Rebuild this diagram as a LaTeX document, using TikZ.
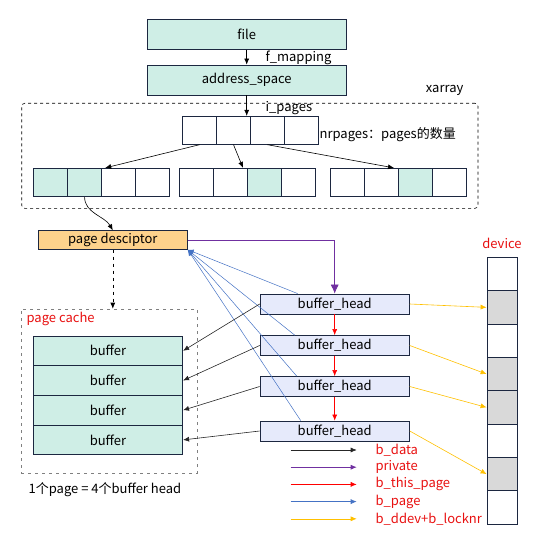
\documentclass[tikz,border=0pt]{standalone}
\usepackage{fontspec}
\setmainfont{Noto Sans CJK SC}
\usetikzlibrary{arrows.meta}
\definecolor{mint}{HTML}{CFEEE6}
\definecolor{peach}{HTML}{FDD28C}
\definecolor{lilac}{HTML}{E6EAFB}
\definecolor{navy}{HTML}{1C2740}
\definecolor{labelred}{HTML}{E81010}
\definecolor{bpurple}{HTML}{7030A0}
\definecolor{bblue}{HTML}{4472C4}
\definecolor{byellow}{HTML}{FFC000}
\definecolor{devgray}{HTML}{D9D9D9}
\tikzset{
	mainbox/.style={draw=navy, line width=0.8pt, fill=mint, inner sep=0pt, minimum width=199.5pt, minimum height=30pt},
	xcell/.style={draw=navy, line width=0.8pt, inner sep=0pt, minimum width=34pt, minimum height=28.4pt},
	pdbox/.style={draw=navy, line width=0.8pt, fill=peach, inner sep=0pt, minimum width=149pt, minimum height=18.6pt},
	bufbox/.style={draw=navy, line width=0.8pt, fill=mint, inner sep=0pt, minimum width=149.4pt, minimum height=29.7pt},
	bhbox/.style={draw=navy, line width=0.8pt, fill=lilac, inner sep=0pt, minimum width=149.3pt, minimum height=20pt},
	devcell/.style={draw=navy, line width=0.8pt, inner sep=0pt, minimum width=30pt, minimum height=33.35pt},
	redtext/.style={text=labelred}
}
\begin{document}
\begin{tikzpicture}[x=1pt,y=-1pt,font=\fontsize{13}{15}\selectfont,
	>={Latex[length=6pt,width=5pt]}, line width=0.6pt]
	\useasboundingbox (0,0) rectangle (545,540);
	%file and address space
	\node[mainbox] (file) at (246.7,34.3) {file};
	\node[mainbox] (addr) at (246.7,80) {address\_space};
	\draw[->] (file) -- (addr);
	\node[anchor=west] (fmap) at (262,57.5) {f\_mapping};
	
	%xarray
	\node[draw, dash pattern=on 3pt off 3pt, rounded corners=3pt, minimum width=456.3pt, minimum height=105pt] (xa) at (249.85,155.8) {};
	\node[anchor=east] (xalabel) at (467,90) {xarray};
	\foreach \i in {0,...,3}{
		\node[xcell, minimum height=28pt] (top\i) at (199.5+34*\i,130.3) {};
	}
	\draw[->] (addr.south) -- (addr.south |- top0.north);
	\node[anchor=west] (ipages) at (262,108.5) {i\_pages};
	\node[anchor=west] (nr) at (316,135) {nrpages：pages的数量};
	
	\foreach \i/\f in {0/mint,1/mint,2/white,3/white}
		\node[xcell, fill=\f] (a0\i) at (50.6+34*\i,182.5) {};
	\foreach \i/\f in {0/white,1/white,2/mint,3/white}
		\node[xcell, fill=\f] (a1\i) at (196.4+34*\i,182.5) {};
	\foreach \i/\f in {0/white,1/white,2/mint,3/white}
		\node[xcell, fill=\f] (a2\i) at (347.4+34*\i,182.5) {};
	\draw[->] (top0.south) -- ([xshift=4pt]a02.north west);
	\draw[->] (top1.south) -- ([xshift=-4pt]a12.north west);
	\draw[->] (top2.south) -- ([xshift=-4pt]a22.north west);
	
	%page descriptor and page cache
	\node[pdbox] (pd) at (112.8,240) {page desciptor};
	\draw[->] (a01.south) .. controls +(0,16) and +(-8,-14) .. (pd.north);
	\node[draw=gray, dash pattern=on 3pt off 4pt, minimum width=176pt, minimum height=164pt] (cache) at (109,391) {};
	\draw[->, dash pattern=on 3pt off 4pt] (pd.south) -- (pd.south |- cache.north);
	\node[redtext, anchor=west] (pclabel) at (23,319) {page cache};
	\foreach \i in {0,...,3}{
		\node[bufbox] (buf\i) at (108,350.8+29.7*\i) {buffer};
	}
	\node[anchor=west] (ratio) at (25,490) {1个page = 4个buffer head};
	
	%buffer heads
	\foreach \i/\y in {0/304,1/345.5,2/386.5,3/431}{
		\node[bhbox] (bh\i) at (334.7,\y) {buffer\_head};
	}
	\foreach \i/\j in {0/1,1/2,2/3}
		\draw[->, red] (bh\i) -- (bh\j);
	
	%device
	\node[redtext] (devlabel) at (502,243) {device};
	\foreach \k/\f in {0/white,1/devgray,2/white,3/devgray,4/devgray,5/white,6/devgray,7/white}{
		\node[devcell, fill=\f] (dev\k) at (502,274+33.35*\k) {};
	}
	
	%pointers
	\draw[->, bpurple, >={Latex[length=9pt,width=8pt]}] (pd.east) -| (bh0.north);
	\foreach \i/\s in {0/-37,1/-40,2/-38,3/-34}
		\draw[->, bblue, line width=0.5pt] ([xshift=\s pt]bh\i.north) -- (pd.south east);
	\foreach \i in {0,...,3}
		\draw[->, black!85] (bh\i.west) -- (buf\i.east);
	\foreach \i/\k in {0/1,1/3,2/4,3/6}
		\draw[->, byellow] (bh\i.east) -- (dev\k.west);
	
	%legend
	\foreach \i/\c/\t in {0/black!85/b\_data, 1/bpurple/private, 2/red/b\_this\_page, 3/bblue/b\_page, 4/byellow/b\_ddev+b\_locknr}{
		\coordinate (ls\i) at (290.7,450+17.2*\i);
		\coordinate (le\i) at (356.7,450+17.2*\i);
		\draw[->, \c] (ls\i) -- (le\i);
		\node[redtext, anchor=west] (lab\i) at (372,450+17.2*\i) {\t};
	}
\end{tikzpicture}
\end{document}
